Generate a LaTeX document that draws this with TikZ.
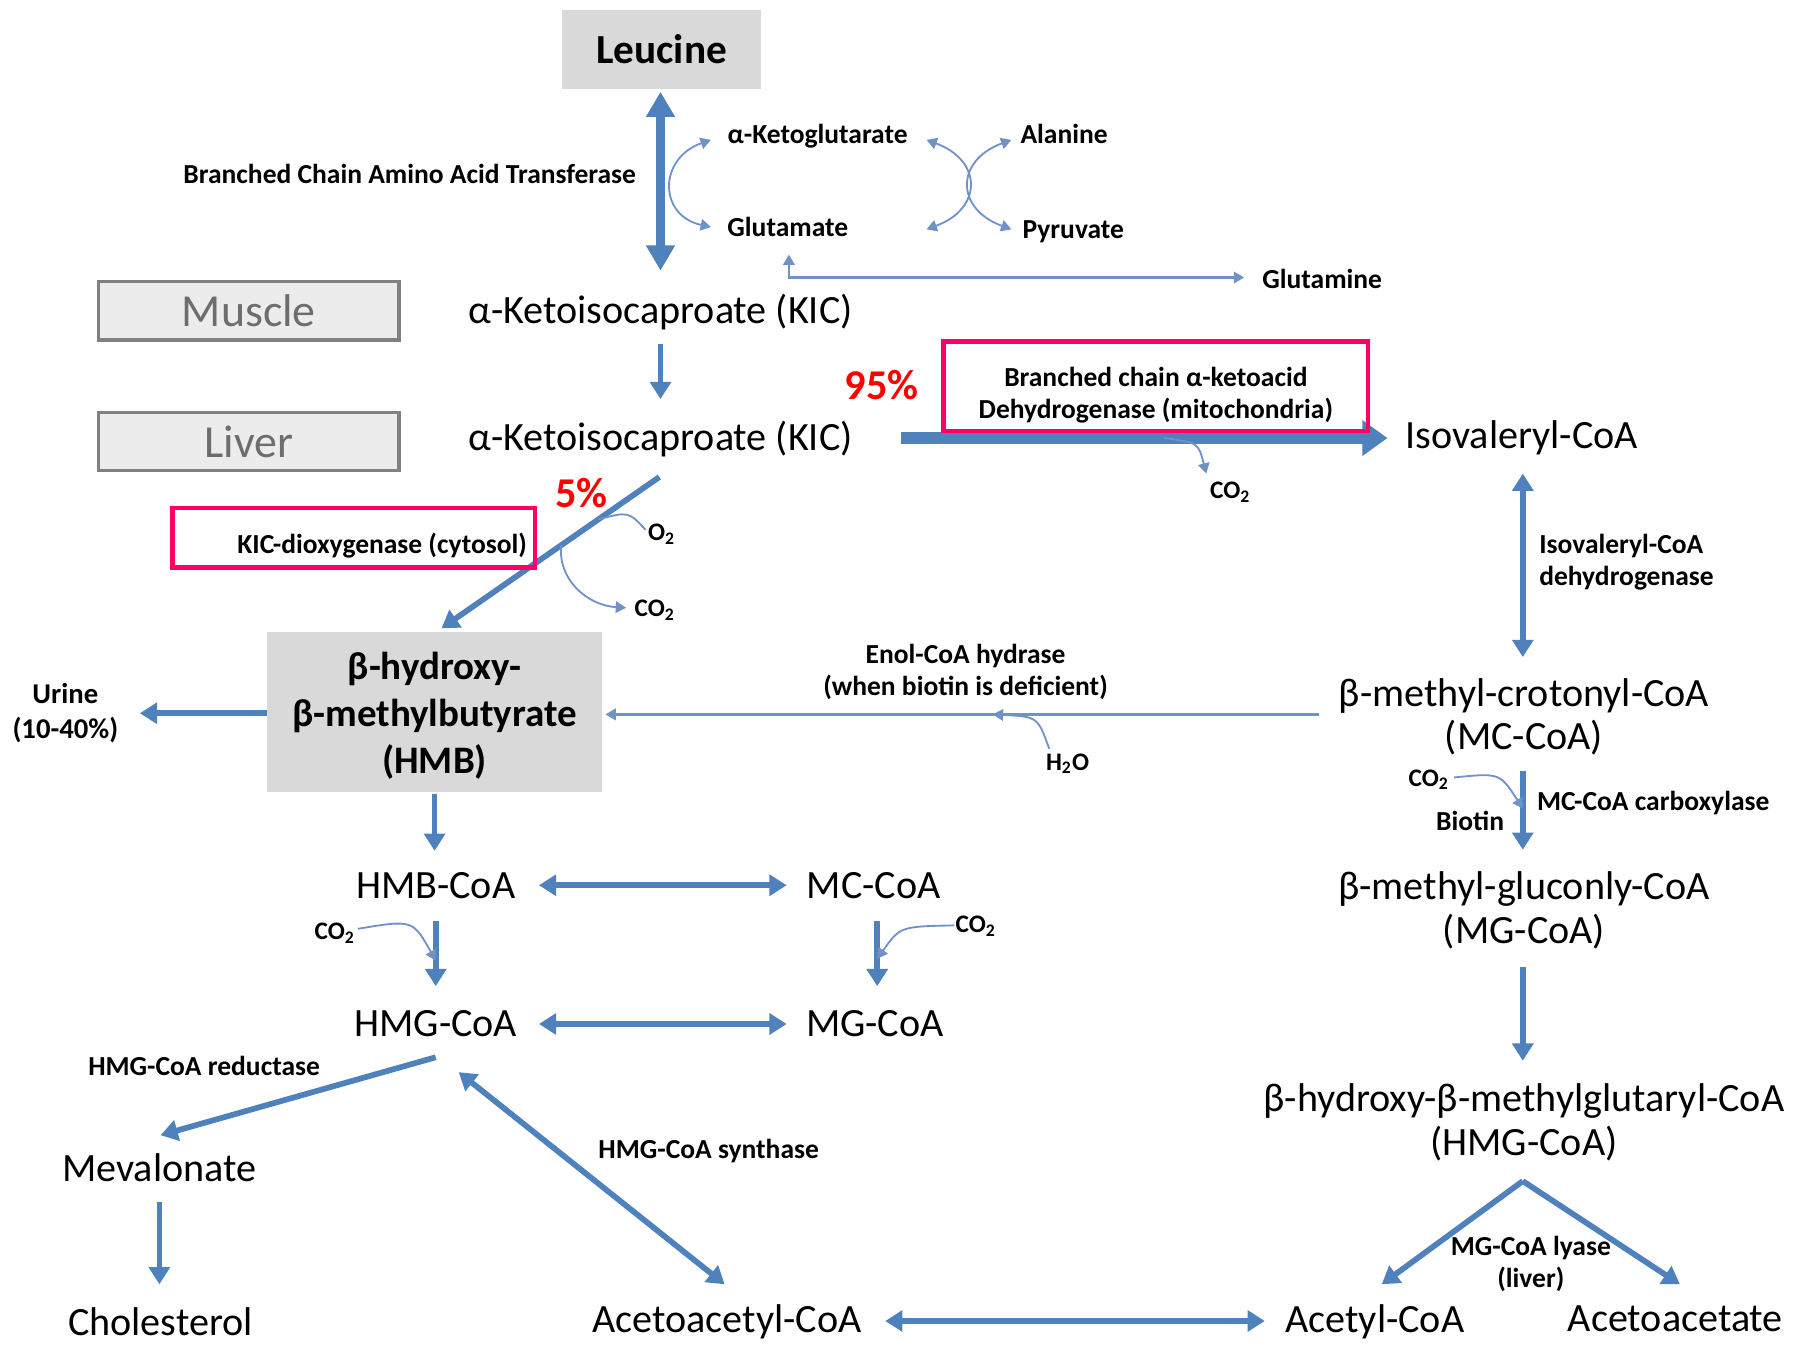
\documentclass[tikz,border=0pt]{standalone}
\usepackage{fontspec}
\setmainfont{Carlito}
\usetikzlibrary{positioning, arrows.meta, calc}
\definecolor{flowblue}{RGB}{79,129,189}
\definecolor{sideblue}{RGB}{112,146,198}
\definecolor{shade}{RGB}{217,217,217}
\definecolor{paneshade}{RGB}{236,236,236}
\definecolor{paneline}{RGB}{128,128,128}
\definecolor{enzpink}{RGB}{255,0,102}

\begin{document}
\begin{tikzpicture}[
    x=0.5pt, y=-0.5pt,
    metab/.style     = {font=\fontsize{17.5}{19}\selectfont, align=center, inner sep=2pt},
    enzyme/.style    = {font=\fontsize{12}{14}\selectfont\bfseries, align=center, inner sep=1pt},
    side/.style      = {font=\fontsize{11}{13}\selectfont\bfseries, inner sep=1pt},
    pct/.style       = {font=\fontsize{18.5}{20}\selectfont\bfseries, text=red, inner sep=1pt},
    graybox/.style   = {fill=shade, align=center, inner sep=2pt},
    tissue/.style    = {draw=paneline, line width=1.5pt, fill=paneshade, text=paneline!85!black,
                        font=\fontsize{20}{22}\selectfont, minimum width=131pt, minimum height=25.5pt},
    enzbox/.style    = {draw=enzpink, line width=2pt},
    flow/.style      = {draw=flowblue, line width=2.5pt, >={Triangle[width=9pt, length=7.5pt]}},
    bigflow/.style   = {draw=flowblue, line width=4pt, >={Triangle[width=12pt, length=11pt]}},
    mainflow/.style  = {draw=flowblue, line width=5pt, >={Triangle[width=15pt, length=11pt]}},
    sidearrow/.style = {draw=sideblue, line width=0.8pt, >={Triangle[width=5pt, length=4.5pt]}},
]
\useasboundingbox (0,0) rectangle (1568,1177);

\node[graybox, minimum width=86.5pt, minimum height=34.5pt,
      font=\fontsize{18}{20}\selectfont\bfseries] (leu) at (577,43) {Leucine};
\node[tissue] (muscle) at (217,271) {Muscle};
\node[tissue] (liver)  at (217,385) {Liver};
\node[graybox, minimum width=146pt, minimum height=69.5pt, text height=56.5pt,
      font=\fontsize{17}{20.5}\selectfont\bfseries] (hmb) at (379,621) {β-hydroxy-\\β-methylbutyrate\\(HMB)};

\node[metab] (kicm)   at (576,272)  {α-Ketoisocaproate (KIC)};
\node[metab] (kicl)   at (576,383)  {α-Ketoisocaproate (KIC)};
\node[metab] (isov)   at (1327,382) {Isovaleryl-CoA};
\node[metab] (mc)     at (1329,625) {β-methyl-crotonyl-CoA\\(MC-CoA)};
\node[metab] (mg)     at (1329,794) {β-methyl-gluconly-CoA\\(MG-CoA)};
\node[metab] (hmgr)   at (1329,979) {β-hydroxy-β-methylglutaryl-CoA\\(HMG-CoA)};
\node[metab] (hmbcoa) at (380,772)  {HMB-CoA};
\node[metab] (mccoa)  at (762,772)  {MC-CoA};
\node[metab] (hmgcoa) at (380,893)  {HMG-CoA};
\node[metab] (mgcoa)  at (763,893)  {MG-CoA};
\node[metab] (meval)  at (139,1018) {Mevalonate};
\node[metab] (chol)   at (140,1153) {Cholesterol};
\node[metab] (acacoa) at (634,1153) {Acetoacetyl-CoA};
\node[metab] (acetyl) at (1199,1153) {Acetyl-CoA};
\node[metab] (acac)   at (1461,1150) {Acetoacetate};

\node[enzyme] (akg) at (713,119)  {α-Ketoglutarate};
\node[enzyme] (glu) at (687,198)  {Glutamate};
\node[enzyme] (ala) at (928,117)  {Alanine};
\node[enzyme] (pyr) at (936,202)  {Pyruvate};
\node[enzyme] (gln) at (1153,243) {Glutamine};
\node[enzyme, anchor=east] (bcat) at (557,152) {Branched Chain Amino Acid Transferase};
\node[enzyme, font=\fontsize{12.5}{15.5}\selectfont\bfseries] (urine) at (57,622) {Urine\\(10-40\%)};
\node[enzyme] (enol) at (842,586) {Enol-CoA hydrase\\(when biotin is deficient)};
\node[enzyme, align=left, anchor=west] (ivdh) at (1340,490) {Isovaleryl-CoA\\dehydrogenase};
\node[enzyme, anchor=west] (mccc) at (1338,700) {MC-CoA carboxylase};
\node[enzyme] (biotin) at (1282,716) {Biotin};
\node[enzyme] (lyase) at (1335,1102) {MG-CoA lyase\\(liver)};
\node[enzyme] (hmgcr) at (178,930) {HMG-CoA reductase};
\node[enzyme] (hmgcs) at (618,1004) {HMG-CoA synthase};

\node[side] (co2a) at (1073,429) {CO\textsubscript{2}};
\node[side] (o2)   at (577,466)  {O\textsubscript{2}};
\node[side] (co2b) at (571,532)  {CO\textsubscript{2}};
\node[side] (h2o)  at (931,666)  {H\textsubscript{2}O};
\node[side] (co2c) at (1246,680) {CO\textsubscript{2}};
\node[side] (co2d) at (292,814)  {CO\textsubscript{2}};
\node[side] (co2e) at (851,808)  {CO\textsubscript{2}};

\node[pct] (p95) at (769,336) {95\%};
\node[pct] (p5)  at (507,430) {5\%};

\draw[bigflow, <->] ($(leu)+(-1,37)$) -- ($(kicm)+(0,-36)$);
\draw[flow, ->] ($(kicm)+(0,28)$) -- ($(kicl)+(0,-35)$);
\draw[mainflow, ->] ($(kicl)+(210,-1)$) -- ($(isov)+(-117,0)$) coordinate[pos=0.54] (dc1);
\draw[flow, ->] ($(kicl)+(-1,33)$) -- ($(hmb)+(6,-73)$)
    coordinate[pos=0.28] (dox1) coordinate[pos=0.45] (dox2);
\draw[flow, ->] ($(hmb)+(-146,1)$) -- ($(urine)+(65,0)$);
\draw[sidearrow, line width=1pt, ->] ($(mc)+(-179,-2)$) -- ($(hmb)+(149,2)$) coordinate[pos=0.457] (hyd);
\draw[flow, <->] ($(isov)+(1,31)$) -- ($(mc)+(-1,-52)$);
\draw[flow, ->] ($(mc)+(-1,47)$) -- ($(mg)+(-1,-53)$) coordinate[pos=0.48] (carb);
\draw[flow, ->] ($(mg)+(-1,49)$) -- ($(hmgr)+(-1,-54)$);
\draw[flow, ->] ($(hmgr)+(-1,51)$) -- ($(acetyl)+(6,-33)$);
\draw[flow, ->] ($(hmgr)+(-1,51)$) -- ($(acac)+(4,-30)$);
\draw[flow, <->] ($(acacoa)+(138,-1)$) -- ($(acetyl)+(-96,-1)$);
\draw[flow, ->] ($(hmb)+(0,71)$) -- ($(hmbcoa)+(-1,-30)$);
\draw[flow, <->] ($(hmbcoa)+(90,0)$) -- ($(mccoa)+(-76,0)$);
\draw[flow, ->] ($(hmbcoa)+(0,31)$) -- ($(hmgcoa)+(0,-33)$) coordinate[pos=0.61] (cx1);
\draw[flow, ->] ($(mccoa)+(3,31)$) -- ($(mgcoa)+(2,-33)$) coordinate[pos=0.58] (cx2);
\draw[flow, <->] ($(hmgcoa)+(90,0)$) -- ($(mgcoa)+(-77,0)$);
\draw[flow, ->] ($(hmgcoa)+(0,29)$) -- ($(meval)+(1,-28)$);
\draw[flow, ->] ($(meval)+(0,30)$) -- ($(chol)+(-1,-33)$);
\draw[flow, <->] ($(hmgcoa)+(20,42)$) -- ($(acacoa)+(-2,-33)$);

\draw[sidearrow, <->] ($(akg)+(-93,3)$) .. controls (574,138) and (574,188) .. ($(glu)+(-67,0)$);
\draw[sidearrow, <->] ($(akg)+(95,3)$) .. controls (857,140) and (857,182) .. ($(glu)+(121,2)$);
\draw[sidearrow, <->] ($(ala)+(-46,5)$) .. controls (833,140) and (833,182) .. ($(pyr)+(-54,-2)$);
\draw[sidearrow, line width=1pt, <->] ($(glu)+(1,24)$) |- ($(gln)+(-68,-1)$);
\draw[sidearrow, ->] (dc1) .. controls (1045,386) .. ($(co2a)+(-21,-16)$);
\draw[sidearrow] (dox1) .. controls (548,446) .. ($(o2)+(-14,-4)$);
\draw[sidearrow, ->] (dox2) .. controls (486,505) and (512,528) .. ($(co2b)+(-25,-2)$);
\draw[sidearrow, ->] ($(h2o)+(-16,-13)$) .. controls (905,625) .. (hyd);
\draw[sidearrow, ->] ($(co2c)+(22,-2)$) .. controls (1308,674) .. (carb);
\draw[sidearrow, ->] ($(co2d)+(20,-4)$) .. controls (360,802) .. (cx1);
\draw[sidearrow, ->] ($(co2e)+(-19,-1)$) .. controls (785,808) .. (cx2);

\node[enzbox, enzyme, minimum width=185pt, minimum height=39pt, text height=30pt]
    (bckd) at (1008,337) {Branched chain α-ketoacid\\Dehydrogenase (mitochondria)};
\node[enzbox, enzyme, text width=151pt, align=flush right,
      inner xsep=3.5pt, minimum height=26pt, text height=16pt, text depth=2pt]
    (dox) at (308.5,469) {KIC-dioxygenase (cytosol)};
\end{tikzpicture}
\end{document}
